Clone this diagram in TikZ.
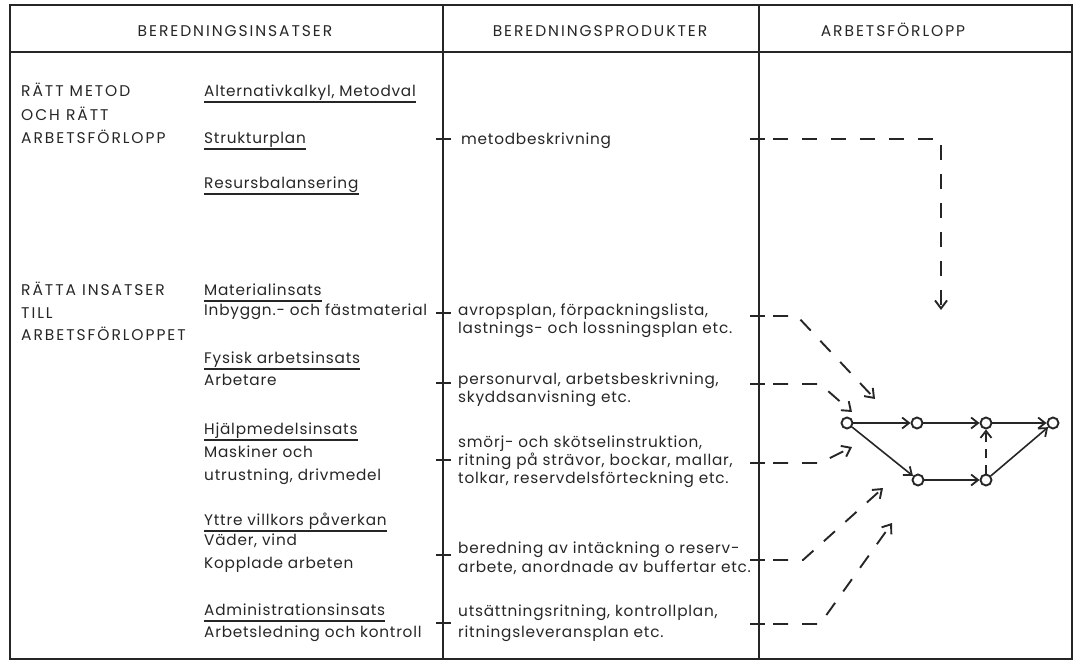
\documentclass[tikz,border=0pt]{standalone}
\usepackage{fontspec}
\setmainfont{Poppins}
\newfontfamily\bodyfont{Poppins}[LetterSpace=5.0]
\newfontfamily\capfont{Poppins}[LetterSpace=12.5]
\usetikzlibrary{arrows.meta}
\definecolor{ink}{HTML}{262626}
\begin{document}
\begin{tikzpicture}[x=1pt,y=-1pt,
  txt/.style={anchor=base west, inner sep=0pt, text=ink, font=\bodyfont\fontsize{15.3}{17}\selectfont},
  caps/.style={anchor=base west, inner sep=0pt, text=ink, font=\capfont\fontsize{15.5}{17}\selectfont},
  head/.style={caps, anchor=base},
  frame/.style={draw=ink, line width=1.9pt},
  rule/.style={draw=ink, line width=1.7pt},
  tickmark/.style={draw=ink, line width=1.5pt},
  uline/.style={draw=ink, line width=1.2pt},
  feed/.style={draw=ink, line width=1.9pt, dash pattern=on 15pt off 14pt, dash phase=15pt,
    -{Straight Barb[length=8pt,width=12pt,line width=1.9pt]}},
  event/.style={circle, draw=ink, line width=1.9pt, fill=white, minimum size=11pt, inner sep=0pt},
  act/.style={draw=ink, line width=1.6pt, -{Straight Barb[length=7pt,width=11pt,line width=1.8pt]}},
  dummy/.style={act, dash pattern=on 9pt off 7pt}
]
\useasboundingbox (0,0) rectangle (1082,664);

% table frame and column rules
\draw[frame] (10,5) rectangle (1072,659);
\draw[rule] (10,52) -- (1072,52);
\draw[rule] (443,5) -- (443,659);
\draw[rule] (759,5) -- (759,659);

% column headings
\node[head] (h1) at (235,36) {BEREDNINGSINSATSER};
\node[head] (h2) at (600,36) {BEREDNINGSPRODUKTER};
\node[head] (h3) at (893,36) {ARBETSFÖRLOPP};

% group labels
\node[caps] (g1a) at (21,96)  {RÄTT METOD};
\node[caps] (g1b) at (21,120) {OCH RÄTT};
\node[caps] (g1c) at (21,143) {ARBETSFÖRLOPP};
\node[caps] (g2a) at (21,295) {RÄTTA INSATSER};
\node[caps] (g2b) at (21,318) {TILL};
\node[caps] (g2c) at (21,340) {ARBETSFÖRLOPPET};

% preparation inputs
\node[txt] (alt) at (204,96)  {Alternativkalkyl, Metodval};
\node[txt] (str) at (204,143) {Strukturplan};
\node[txt] (res) at (204,188) {Resursbalansering};
\node[txt] (mat) at (204,295) {Materialinsats};
\node[txt] (inb) at (204,315) {Inbyggn.- och fästmaterial};
\node[txt] (fys) at (204,363) {Fysisk arbetsinsats};
\node[txt] (arb) at (204,385) {Arbetare};
\node[txt] (hjp) at (204,434) {Hjälpmedelsinsats};
\node[txt] (msk) at (204,457) {Maskiner och};
\node[txt] (utr) at (204,480) {utrustning, drivmedel};
\node[txt] (ytt) at (204,525) {Yttre villkors påverkan};
\node[txt] (vad) at (204,545) {Väder, vind};
\node[txt] (kop) at (204,568) {Kopplade arbeten};
\node[txt] (adm) at (204,615) {Administrationsinsats};
\node[txt] (arl) at (204,637) {Arbetsledning och kontroll};

\foreach \n in {alt,str,res,mat,fys,hjp,ytt,adm}
  \draw[uline] ([yshift=-6pt]\n.base west) -- ([yshift=-6pt]\n.base east);

% preparation products
\node[txt] (p1)  at (461,144) {metodbeskrivning};
\node[txt] (p2a) at (458,315) {avropsplan, förpackningslista,};
\node[txt] (p2b) at (458,333) {lastnings- och lossningsplan etc.};
\node[txt] (p3a) at (458,384) {personurval, arbetsbeskrivning,};
\node[txt] (p3b) at (458,402) {skyddsanvisning etc.};
\node[txt] (p4a) at (458,447) {smörj- och skötselinstruktion,};
\node[txt] (p4b) at (458,465) {ritning på strävor, bockar, mallar,};
\node[txt] (p4c) at (458,483) {tolkar, reservdelsförteckning etc.};
\node[txt] (p5a) at (458,553) {beredning av intäckning o reserv-};
\node[txt] (p5b) at (458,572) {arbete, anordnade av buffertar etc.};
\node[txt] (p6a) at (458,616) {utsättningsritning, kontrollplan,};
\node[txt] (p6b) at (458,637) {ritningsleveransplan etc.};

% tick marks on the column rules
\foreach \y in {139,313,383,460,555,623}
  \draw[tickmark] (436,\y) -- (451,\y);
\foreach \y in {139,316,384,463,560,624}
  \draw[tickmark] (750,\y) -- (765,\y);

% network of the work sequence
\node[event] (n1) at (847,423) {};
\node[event] (n2) at (917,423) {};
\node[event] (n3) at (986,423) {};
\node[event] (n4) at (1053,423) {};
\node[event] (b1) at (918,480) {};
\node[event] (b2) at (986,480) {};
\draw[act] (n1) -- (n2);
\draw[act] (n2) -- (n3);
\draw[act] (n3) -- (n4);
\draw[act] (n1) -- (b1);
\draw[act] (b1) -- (b2);
\draw[act] (b2) -- (n4);
\draw[dummy] (b2) -- (n3);

% feeds from the products into the network
\coordinate (f1s) at (759,139); \coordinate (f1c) at (941,139); \coordinate (f1e) at (941,310);
\coordinate (f2s) at (759,316); \coordinate (f2c) at (797,316); \coordinate (f2e) at (875,399);
\coordinate (f3s) at (759,384); \coordinate (f3c) at (820,384); \coordinate (f3e) at (852,412);
\coordinate (f4s) at (759,463); \coordinate (f4c) at (820,463); \coordinate (f4e) at (852,447);
\coordinate (f5s) at (759,560); \coordinate (f5c) at (803,560); \coordinate (f5e) at (883,488);
\coordinate (f6s) at (759,624); \coordinate (f6c) at (820,624); \coordinate (f6e) at (892,523);
\draw[feed] (f1s) -- (f1c) -- (f1e);
\draw[feed] (f2s) -- (f2c) -- (f2e);
\draw[feed] (f3s) -- (f3c) -- (f3e);
\draw[feed] (f4s) -- (f4c) -- (f4e);
\draw[feed] (f5s) -- (f5c) -- (f5e);
\draw[feed] (f6s) -- (f6c) -- (f6e);
\end{tikzpicture}
\end{document}
